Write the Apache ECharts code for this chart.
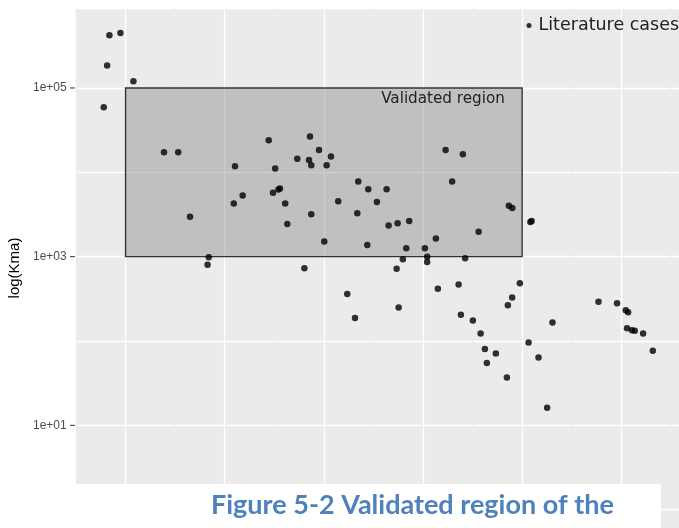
<!DOCTYPE html>
<html>
<head>
<meta charset="utf-8">
<script src="https://cdn.jsdelivr.net/npm/echarts@6/dist/echarts.min.js"></script>
<style>
  html, body { margin: 0; padding: 0; background: #fff; }
  #chart { width: 679px; height: 528px; }
</style>
</head>
<body>
<div id="chart"></div>
<script>
// Literature cases: x position (axis units) and Kma value
const caseX = [
  -0.220, -0.186, -0.163, -0.052, 0.079, 0.388, 0.531, 0.650, 0.839, 0.827,
  1.091, 1.104, 1.181, 1.444, 1.487, 1.509, 1.542, 1.557, 1.610, 1.631,
  1.732, 1.804, 1.850, 1.860, 1.873, 1.873, 1.951, 2.004, 2.028, 2.072,
  2.145, 2.236, 2.314, 2.337, 2.347, 2.438, 2.448, 2.535, 2.633, 2.653,
  2.734, 2.744, 2.754, 2.797, 2.831, 2.861, 3.019, 3.042, 3.042, 3.130,
  3.150, 3.228, 3.294, 3.359, 3.382, 3.402, 3.425, 3.503, 3.561, 3.581,
  3.624, 3.644, 3.735, 3.846, 3.856, 3.866, 3.901, 3.899, 3.977, 4.065,
  4.083, 4.096, 4.165, 4.252, 4.306, 4.770, 4.957, 5.045, 5.069, 5.058,
  5.108, 5.136, 5.220, 5.318
];
const caseKma = [
  59000, 184000, 421000, 449000, 120000, 17300, 17300, 2980, 986, 800,
  4260, 11800, 5290, 24000, 5740, 11100, 6270, 6440, 4260, 2430,
  14500, 726, 14000, 26500, 12100, 3170, 18400, 1510, 12100, 15400,
  4550, 360, 187, 3270, 7760, 1370, 6310, 4430, 6310, 2340,
  716, 2490, 249, 933, 1260, 2650, 1260, 1000, 861, 1640,
  415, 18400, 7760, 467, 204, 16400, 960, 175, 1970, 123,
  80.2, 54.7, 71.1, 37.0, 266, 4000, 3770, 327, 485, 96.0,
  2570, 2640, 63.8, 16.2, 166, 291, 281, 231, 219, 142,
  134, 132, 123, 76.6
];

// Validated region bounds
const regionX = [0, 4];
const regionKma = [1e3, 1e5];

// Decades that carry a tick label on the y axis
const labelledExponents = [1, 3, 5];

const seriesName = 'Literature cases';
const regionName = 'Validated region';
const yTitle = 'log(Kma)';
const caption = 'Figure 5-2 Validated region of the';

const PANEL = '#EBEBEB';

function sci(v) {
  const e = Math.round(Math.log10(v));
  return '1e' + (e < 0 ? '-' : '+') + String(Math.abs(e)).padStart(2, '0');
}

const chart = echarts.init(document.getElementById('chart'), null, { renderer: 'canvas' });

chart.setOption({
  animation: false,
  backgroundColor: '#fff',
  grid: {
    left: 76, top: 8, right: -91, bottom: -66,
    show: true, backgroundColor: PANEL, borderWidth: 0,
    containLabel: false, outerBoundsMode: 'none'
  },
  legend: {
    data: [seriesName],
    left: 526.5, top: 16.5, padding: 0,
    icon: 'circle', itemWidth: 9, itemHeight: 5,
    textStyle: { fontSize: 17.5, color: '#222', fontFamily: 'DejaVu Sans' }
  },
  xAxis: {
    type: 'value', min: -0.5, max: 6.5, interval: 0.5,
    axisLine: { show: false }, axisTick: { show: false }, axisLabel: { show: false },
    splitLine: { show: true, lineStyle: { color: [PANEL, '#ffffff'], width: 1.3 } }
  },
  yAxis: {
    type: 'log', logBase: 10, min: 0.1, max: 887000, interval: 1,
    name: yTitle, nameLocation: 'middle', nameGap: 45, nameRotate: 90,
    nameTextStyle: { color: '#000', fontSize: 15, fontFamily: 'Liberation Sans', padding: [0, 0, 0, 66] },
    axisLine: { show: false }, axisTick: { show: false },
    axisLabel: {
      margin: 1,
      formatter: function (v) {
        const e = Math.round(Math.log10(v));
        return labelledExponents.indexOf(e) >= 0 ? '{v|' + sci(v) + '} {t|}' : '';
      },
      rich: {
        v: { color: '#4D4D4D', fontSize: 12, fontFamily: 'Liberation Sans' },
        t: { width: 5, height: 1, backgroundColor: '#333' }
      }
    },
    splitLine: { show: true, lineStyle: { color: '#ffffff', width: 1.4 } }
  },
  series: [
    {
      type: 'scatter', name: regionName, data: [], silent: true, z: 1,
      markArea: {
        silent: true,
        itemStyle: { color: 'rgba(127,127,127,0.4)', borderColor: '#333', borderWidth: 1.4 },
        label: {
          show: true, position: 'insideTopRight', distance: 4, offset: [-14, 0],
          color: '#222', fontSize: 15.2, fontFamily: 'DejaVu Sans'
        },
        data: [[
          { name: regionName, coord: [regionX[0], regionKma[0]] },
          { coord: [regionX[1], regionKma[1]] }
        ]]
      }
    },
    {
      type: 'scatter', name: seriesName, z: 3,
      data: caseX.map(function (x, i) { return [x, caseKma[i]]; }),
      symbol: 'circle', symbolSize: 6.5,
      itemStyle: { color: '#000' }
    }
  ],
  graphic: [
    {
      type: 'rect', z: 100, silent: true,
      shape: { x: 0, y: 484, width: 661, height: 44 },
      style: { fill: '#ffffff' }
    },
    {
      type: 'text', z: 101, silent: true, x: 211, y: 505,
      style: {
        text: caption, fill: '#4F81BD',
        font: 'bold 27px Lato', verticalAlign: 'middle', align: 'left'
      }
    }
  ]
});
</script>
</body>
</html>
